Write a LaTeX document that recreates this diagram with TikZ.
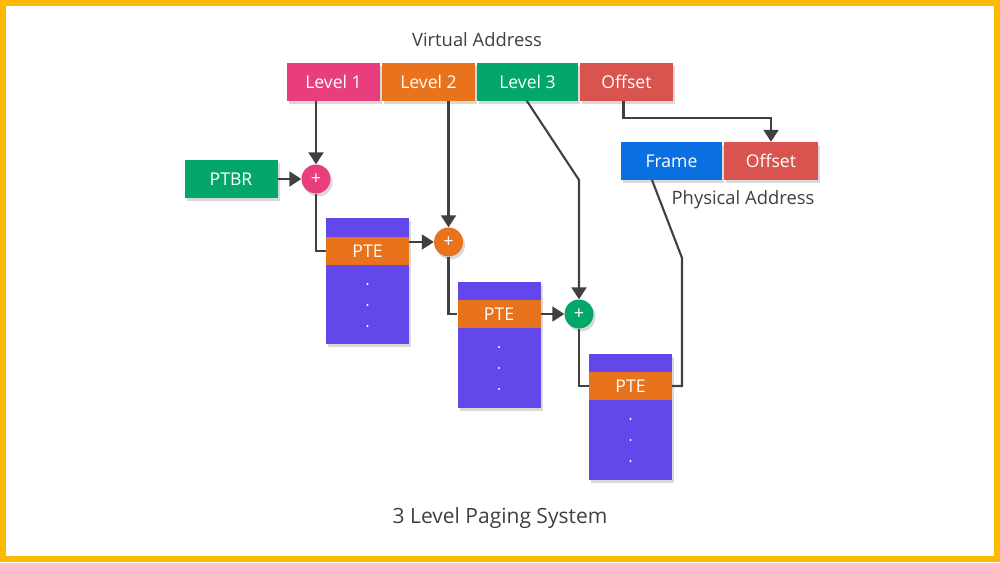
\documentclass[tikz,border=0pt]{standalone}
\usepackage{fontspec}
\setmainfont{Open Sans}
\usetikzlibrary{arrows.meta,shadows,calc}
\definecolor{lvlone}{HTML}{E83E7D}
\definecolor{lvltwo}{HTML}{E8731C}
\definecolor{lvlthree}{HTML}{04A76A}
\definecolor{offs}{HTML}{D9534F}
\definecolor{frm}{HTML}{0A6FE0}
\definecolor{tbl}{HTML}{6347EA}
\definecolor{ln}{HTML}{404040}
\definecolor{bord}{HTML}{FFB900}
\begin{document}
\begin{tikzpicture}[x=1pt,y=-1pt,
  shad/.style={drop shadow={shadow xshift=2pt,shadow yshift=-3pt,opacity=0.15,fill=black}},
  field/.style={shad,rectangle,draw=none,minimum height=38pt,inner sep=0pt,text=white,font=\fontsize{17.6}{17.6}\selectfont},
  tblbox/.style={shad,rectangle,fill=tbl,draw=none,minimum width=83pt,minimum height=126pt,inner sep=0pt},
  ptebox/.style={rectangle,fill=lvltwo,draw=none,minimum width=83pt,minimum height=28pt,inner sep=0pt,text=white,font=\fontsize{17.6}{17.6}\selectfont},
  adder/.style={shad,circle,draw=none,minimum size=29pt,inner sep=0pt,text=white,font=\fontsize{18}{18}\selectfont},
  dotnode/.style={circle,fill=white,minimum size=2.4pt,inner sep=0pt},
  lbl/.style={text=ln,font=\fontsize{18.4}{18.4}\selectfont},
  conn/.style={draw=ln,line width=2.1pt},
  arr/.style={conn,-{Triangle[length=12pt,width=15pt]}}]
\useasboundingbox (0,0) rectangle (1000,562);
\fill[white] (0,0) rectangle (1000,562);
\draw[bord,line width=6pt] (3,3) rectangle (997,559);

% virtual address
\node[lbl] (va) at (477,40) {Virtual Address};
\node[field,fill=lvlone,minimum width=93pt] (l1) at (333.5,81.5) {Level 1};
\node[field,fill=lvltwo,minimum width=93pt] (l2) at (428.5,81.5) {Level 2};
\node[field,fill=lvlthree,minimum width=101pt] (l3) at (527.5,81.5) {Level 3};
\node[field,fill=offs,minimum width=93pt] (off1) at (626.5,81.5) {Offset};

% PTBR and adders
\node[field,fill=lvlthree,minimum width=93pt] (ptbr) at (231,179) {PTBR};
\node[adder,fill=lvlone] (c1) at (316,179) {+};
\node[adder,fill=lvltwo] (c2) at (448.5,242) {+};
\node[adder,fill=lvlthree] (c3) at (579,314) {+};

% tables
\node[tblbox] (t1) at (367.5,281) {};
\node[ptebox] (pte1) at (367.5,251) {PTE};
\node[dotnode] (d11) at (367.5,284) {};
\node[dotnode] (d12) at (367.5,305) {};
\node[dotnode] (d13) at (367.5,326) {};

\node[tblbox] (t2) at (499,345) {};
\node[ptebox] (pte2) at (499,314) {PTE};
\node[dotnode] (d21) at (499,347) {};
\node[dotnode] (d22) at (499,368) {};
\node[dotnode] (d23) at (499,389) {};

\node[tblbox] (t3) at (630.5,416.5) {};
\node[ptebox] (pte3) at (630.5,386) {PTE};
\node[dotnode] (d31) at (630.5,419) {};
\node[dotnode] (d32) at (630.5,440) {};
\node[dotnode] (d33) at (630.5,461) {};

% physical address
\node[field,fill=frm,minimum width=101pt] (frame) at (671.5,161) {Frame};
\node[field,fill=offs,minimum width=94pt] (off2) at (771,161) {Offset};
\node[lbl] (pa) at (743,200) {Physical Address};

\node[text=ln,font=\fontsize{21}{21}\selectfont] (title) at (500,518) {3 Level Paging System};

% connectors
\coordinate (b3) at (579,180);
\coordinate (o1) at (623.5,118);
\coordinate (o2) at (771,118);
\coordinate (p1) at (682,386);
\coordinate (p2) at (682,258);
\coordinate (fb) at (652,180);

\draw[arr] (c1 |- l1.south) -- (c1.north);
\draw[arr] (ptbr.east) -- (c1.west);
\draw[conn] (c1.south) -- (c1 |- pte1.west) -- (pte1.west);
\draw[arr] (pte1.east |- c2) -- (c2.west);
\draw[arr] (c2 |- l2.south) -- (c2.north);
\draw[conn] (c2.south) -- (c2 |- pte2.west) -- (pte2.west);
\draw[arr] (pte2.east |- c3) -- (c3.west);
\draw[arr] ([xshift=-0.8pt]l3.south) -- (b3) -- (c3.north);
\draw[conn] (c3.south) -- (c3 |- pte3.west) -- (pte3.west);
\draw[conn] (pte3.east) -- (p1) -- (p2) -- (fb);
\draw[arr] (o1 |- off1.south) -- (o1) -- (o2) -- (off2.north);
\end{tikzpicture}
\end{document}
